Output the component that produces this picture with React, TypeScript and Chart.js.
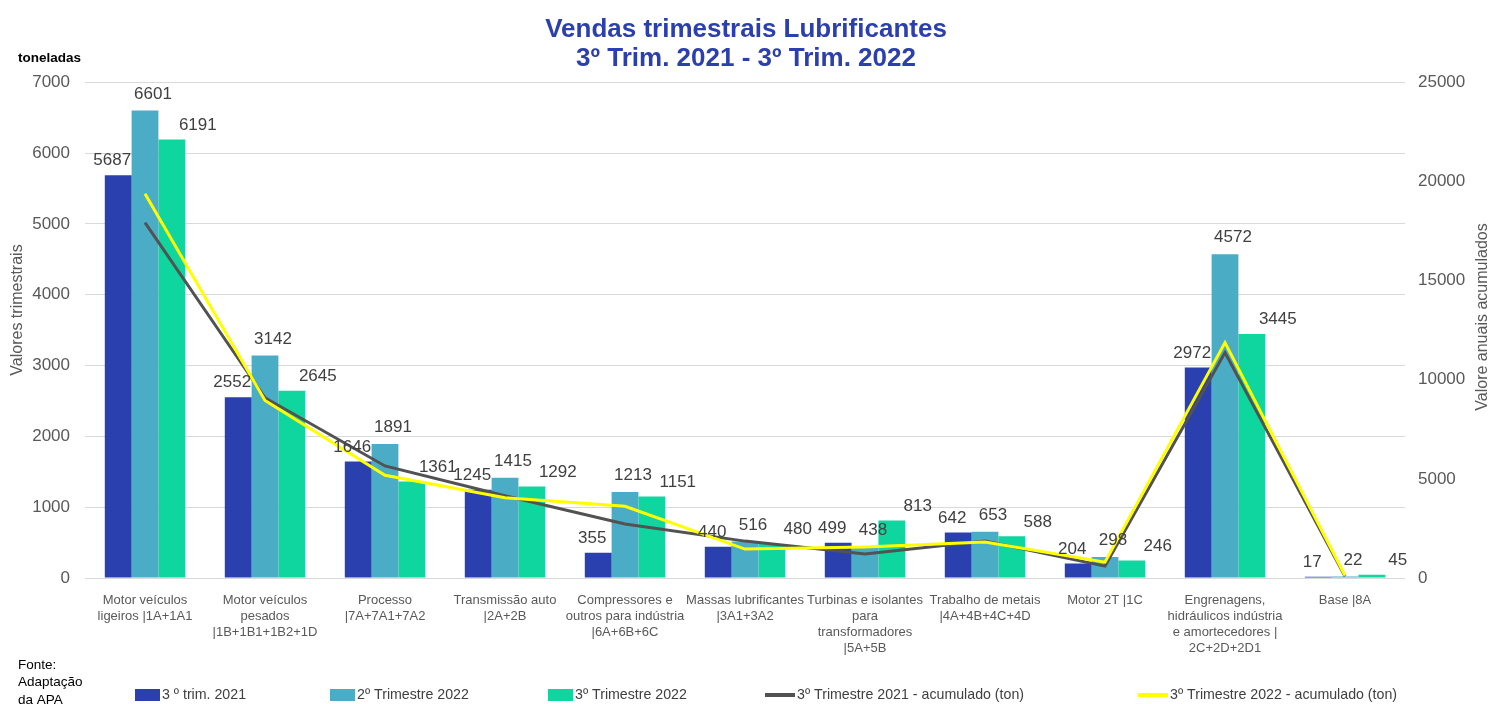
import React, { useEffect, useRef } from 'react';
import { Chart, registerables } from 'chart.js';

Chart.register(...registerables);

const categories: string[][] = [
  ['Motor veículos', 'ligeiros |1A+1A1'],
  ['Motor veículos', 'pesados', '|1B+1B1+1B2+1D'],
  ['Processo', '|7A+7A1+7A2'],
  ['Transmissão auto', '|2A+2B'],
  ['Compressores e', 'outros para indústria', '|6A+6B+6C'],
  ['Massas lubrificantes', '|3A1+3A2'],
  ['Turbinas e isolantes', 'para', 'transformadores', '|5A+5B'],
  ['Trabalho de metais', '|4A+4B+4C+4D'],
  ['Motor 2T |1C'],
  ['Engrenagens,', 'hidráulicos indústria', 'e amortecedores |', '2C+2D+2D1'],
  ['Base |8A'],
];

const q3_2021 = [5687, 2552, 1646, 1245, 355, 440, 499, 642, 204, 2972, 17];
const q2_2022 = [6601, 3142, 1891, 1415, 1213, 516, 438, 653, 298, 4572, 22];
const q3_2022 = [6191, 2645, 1361, 1292, 1151, 480, 813, 588, 246, 3445, 45];
const acc2021 = [17920, 9090, 5650, 4150, 2720, 1860, 1210, 1860, 600, 11370, 80];
const acc2022 = [19380, 8950, 5180, 4050, 3620, 1460, 1560, 1810, 800, 11870, 120];

const seriesNames = [
  '3 º trim. 2021',
  '2º Trimestre 2022',
  '3º Trimestre 2022',
  '3º Trimestre 2021 - acumulado (ton)',
  '3º Trimestre 2022 - acumulado (ton)',
];

const leftTicks = [0, 1000, 2000, 3000, 4000, 5000, 6000, 7000];
const rightTicks = [0, 5000, 10000, 15000, 20000, 25000];

const titleLines = ['Vendas trimestrais Lubrificantes', '3º Trim. 2021 - 3º Trim. 2022'];
const sourceLines = ['Fonte:', 'Adaptação', 'da APA'];
const unitLabel = 'toneladas';
const leftAxisTitle = 'Valores trimestrais';
const rightAxisTitle = 'Valore anuais acumulados';

const FONT = "'Liberation Sans', Arial, sans-serif";
const C_DARK = '#2A40AE';
const C_TEAL = '#4BACC6';
const C_GREEN = '#0FD69E';
const C_GRAY = '#525252';
const C_YELLOW = '#FFFF00';

const legendSlots = [135, 330, 548, 765, 1138];

const extrasPlugin = {
  id: 'extras',
  afterDatasetsDraw(chart: any) {
    const ctx = chart.ctx;
    ctx.save();
    const dxs = [-6, 8, 26];
    const dys = [6, 8, 6];
    ctx.font = `17px ${FONT}`;
    ctx.fillStyle = '#404040';
    ctx.textAlign = 'center';
    ctx.textBaseline = 'bottom';
    for (let d = 0; d < 3; d++) {
      const meta = chart.getDatasetMeta(d);
      const data = chart.data.datasets[d].data as number[];
      meta.data.forEach((el: any, i: number) => {
        ctx.fillText(String(data[i]), el.x + dxs[d], el.y - dys[d]);
      });
    }
    ctx.restore();
  },
  afterDraw(chart: any) {
    const ctx = chart.ctx;
    ctx.save();
    ctx.font = `bold 13.5px ${FONT}`;
    ctx.fillStyle = '#000';
    ctx.textAlign = 'left';
    ctx.textBaseline = 'middle';
    ctx.fillText(unitLabel, 18, 58);
    ctx.font = `16px ${FONT}`;
    ctx.fillStyle = '#595959';
    ctx.textAlign = 'center';
    ctx.save();
    ctx.translate(18, 310);
    ctx.rotate(-Math.PI / 2);
    ctx.fillText(leftAxisTitle, 0, 0);
    ctx.restore();
    ctx.save();
    ctx.translate(1483, 317);
    ctx.rotate(-Math.PI / 2);
    ctx.fillText(rightAxisTitle, 0, 0);
    ctx.restore();
    ctx.font = `13.5px ${FONT}`;
    ctx.fillStyle = '#000';
    ctx.textAlign = 'left';
    sourceLines.forEach((t, i) => ctx.fillText(t, 18, 665 + i * 17.5));
    const ly = 695;
    ctx.font = `14.2px ${FONT}`;
    chart.data.datasets.forEach((ds: any, i: number) => {
      let x = legendSlots[i];
      const isLine = ds.type === 'line';
      if (isLine) {
        ctx.strokeStyle = ds.borderColor;
        ctx.lineWidth = 4;
        ctx.beginPath();
        ctx.moveTo(x, ly);
        ctx.lineTo(x + 30, ly);
        ctx.stroke();
        x += 32;
      } else {
        ctx.fillStyle = ds.backgroundColor;
        ctx.fillRect(x, ly - 6, 25, 12);
        x += 27;
      }
      ctx.fillStyle = '#404040';
      ctx.fillText(ds.label, x, ly);
    });
    ctx.restore();
  },
};

export default function App() {
  const ref = useRef<HTMLCanvasElement>(null);
  useEffect(() => {
    if (!ref.current) return;
    const barBase = { categoryPercentage: 0.67, barPercentage: 1.0, yAxisID: 'y', order: 2 };
    const fmt = (v: any) => String(v);
    const chart = new Chart(ref.current, {
      type: 'bar',
      data: {
        labels: categories,
        datasets: [
          { ...barBase, type: 'bar', label: seriesNames[0], data: q3_2021, backgroundColor: C_DARK },
          { ...barBase, type: 'bar', label: seriesNames[1], data: q2_2022, backgroundColor: C_TEAL },
          { ...barBase, type: 'bar', label: seriesNames[2], data: q3_2022, backgroundColor: C_GREEN },
          {
            type: 'line', label: seriesNames[3], data: acc2021, borderColor: C_GRAY, backgroundColor: C_GRAY,
            borderWidth: 3, pointRadius: 0, tension: 0, yAxisID: 'y1', order: 1,
          },
          {
            type: 'line', label: seriesNames[4], data: acc2022, borderColor: C_YELLOW, backgroundColor: C_YELLOW,
            borderWidth: 3, pointRadius: 0, tension: 0, yAxisID: 'y1', order: 0,
          },
        ] as any,
      },
      options: {
        responsive: false,
        animation: false,
        devicePixelRatio: 1,
        layout: { padding: { top: 0, bottom: 46, left: 0, right: 0 } },
        plugins: {
          legend: { display: false },
          tooltip: { enabled: false },
          title: {
            display: true,
            text: titleLines,
            color: '#2B3FAF',
            font: { family: FONT, size: 26, weight: 'bold', lineHeight: 1.12 },
            padding: { top: 15, bottom: 9 },
          },
        },
        scales: {
          x: {
            grid: { display: false },
            border: { display: false },
            ticks: {
              color: '#595959',
              font: { family: FONT, size: 13, lineHeight: 1.23 },
              maxRotation: 0,
              minRotation: 0,
              autoSkip: false,
              padding: 6,
            },
            afterFit: (s: any) => { s.height = 80; },
          },
          y: {
            position: 'left',
            min: 0,
            max: 7000,
            afterBuildTicks: (s: any) => { s.ticks = leftTicks.map((v) => ({ value: v })); },
            grid: { color: '#D9D9D9', lineWidth: 1, drawTicks: false },
            border: { display: false },
            ticks: { color: '#595959', font: { family: FONT, size: 17 }, padding: 15, callback: fmt },
            afterFit: (s: any) => { s.width = 85; },
          },
          y1: {
            position: 'right',
            min: 0,
            max: 25000,
            afterBuildTicks: (s: any) => { s.ticks = rightTicks.map((v) => ({ value: v })); },
            grid: { drawOnChartArea: false, drawTicks: false },
            border: { display: false },
            ticks: { color: '#595959', font: { family: FONT, size: 17 }, padding: 13, callback: fmt },
            afterFit: (s: any) => { s.width = 87; },
          },
        },
      } as any,
      plugins: [extrasPlugin],
    });
    return () => chart.destroy();
  }, []);
  return (
    <div style={{ position: 'absolute', left: 0, top: 0, width: 1492, height: 704, background: '#fff' }}>
      <canvas ref={ref} width={1492} height={704} style={{ display: 'block' }} />
    </div>
  );
}
